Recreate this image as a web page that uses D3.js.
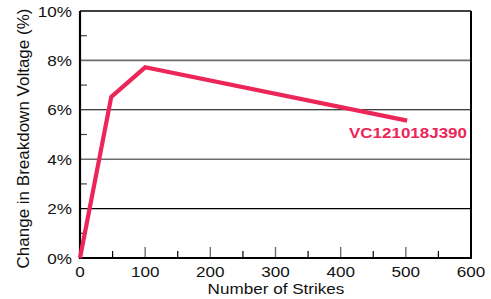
<!DOCTYPE html>
<html><head><meta charset="utf-8">
<script src="https://cdn.jsdelivr.net/npm/d3@7"></script>
<style>body{margin:0;background:#fff}svg{display:block}text{font-family:"Liberation Sans",Arial,sans-serif}</style>
</head><body>
<script>
const strikes = [0, 48, 100, 502];
const change = [0, 6.52, 7.72, 5.56];
const seriesName = "VC121018J390";
const xTicks = [0, 100, 200, 300, 400, 500, 600];
const yTicks = [0, 2, 4, 6, 8, 10];

const W = 491, H = 299;
const m = {l: 80, r: 20, t: 11, b: 41};
const svg = d3.select("body").append("svg").attr("width", W).attr("height", H);
const x = d3.scaleLinear().domain([0, 600]).range([m.l, W - m.r]);
const y = d3.scaleLinear().domain([0, 10]).range([H - m.b, m.t]);

function stretch(sel, k) {
  sel.each(function() {
    const len = this.getComputedTextLength();
    d3.select(this).attr("textLength", len * k).attr("lengthAdjust", "spacingAndGlyphs");
  });
}

// grid lines
yTicks.filter(v => v > 0 && v < 10).forEach(v => {
  const grey = (v === 4 || v === 8);
  svg.append("line").attr("x1", x(0)).attr("x2", x(600)).attr("y1", y(v)).attr("y2", y(v))
    .attr("stroke", grey ? "#6e6e6e" : "#000").attr("stroke-width", grey ? 1.6 : 1.1);
});
svg.append("line").attr("x1", x(0)).attr("x2", x(600)).attr("y1", y(10)).attr("y2", y(10)).attr("stroke", "#000").attr("stroke-width", 1.5);
svg.append("line").attr("x1", x(600)).attr("x2", x(600)).attr("y1", y(10)).attr("y2", y(0)).attr("stroke", "#000").attr("stroke-width", 2);

// minor ticks
d3.range(1, 10, 2).forEach(v => {
  svg.append("line").attr("x1", x(0)).attr("x2", x(0) + 7).attr("y1", y(v)).attr("y2", y(v)).attr("stroke", "#444").attr("stroke-width", 1.2);
});
d3.range(50, 600, 100).forEach(v => {
  svg.append("line").attr("x1", x(v)).attr("x2", x(v)).attr("y1", y(0)).attr("y2", y(0) - 7).attr("stroke", "#000").attr("stroke-width", 1.2);
});
xTicks.filter(v => v > 0 && v < 600).forEach(v => {
  svg.append("line").attr("x1", x(v)).attr("x2", x(v)).attr("y1", y(0)).attr("y2", y(0) - 11).attr("stroke", "#6e6e6e").attr("stroke-width", 1.4);
});

// axes lines
svg.append("line").attr("x1", x(0)).attr("x2", x(0)).attr("y1", y(10)).attr("y2", y(0) + 1).attr("stroke", "#000").attr("stroke-width", 2.2);
svg.append("line").attr("x1", x(0) - 1).attr("x2", x(600) + 1).attr("y1", y(0)).attr("y2", y(0)).attr("stroke", "#000").attr("stroke-width", 2.2);

// tick labels
svg.selectAll(".yl").data(yTicks).enter().append("text")
  .attr("x", x(0) - 8).attr("y", d => y(d) + 5.5).attr("text-anchor", "end")
  .attr("font-size", 15).attr("fill", "#111").text(d => d + "%").call(stretch, 1.14);
svg.selectAll(".xl").data(xTicks).enter().append("text")
  .attr("x", d => x(d)).attr("y", y(0) + 19).attr("text-anchor", "middle")
  .attr("font-size", 15).attr("fill", "#111").text(d => d).call(stretch, 1.14);

// axis titles
svg.append("text").attr("x", (x(0) + x(600)) / 2 + 0.5).attr("y", 294).attr("text-anchor", "middle")
  .attr("font-size", 15).attr("fill", "#111").text("Number of Strikes").call(stretch, 1.14);
svg.append("text").attr("transform", `translate(28.5,138.5) rotate(-90)`)
  .attr("text-anchor", "middle").attr("font-size", 17).attr("fill", "#111")
  .text("Change in Breakdown Voltage (%)");

// series
const data = strikes.map((s, i) => [s, change[i]]);
svg.append("path").datum(data)
  .attr("d", d3.line().x(d => x(d[0])).y(d => y(d[1])))
  .attr("fill", "none").attr("stroke", "#EC2659").attr("stroke-width", 4.2)
  .attr("stroke-linejoin", "miter");

svg.append("text").attr("x", 467).attr("y", 138).attr("text-anchor", "end")
  .attr("font-size", 14.5).attr("font-weight", "bold").attr("fill", "#EC2659").text(seriesName)
  .attr("textLength", 118).attr("lengthAdjust", "spacingAndGlyphs");
</script>
</body></html>
